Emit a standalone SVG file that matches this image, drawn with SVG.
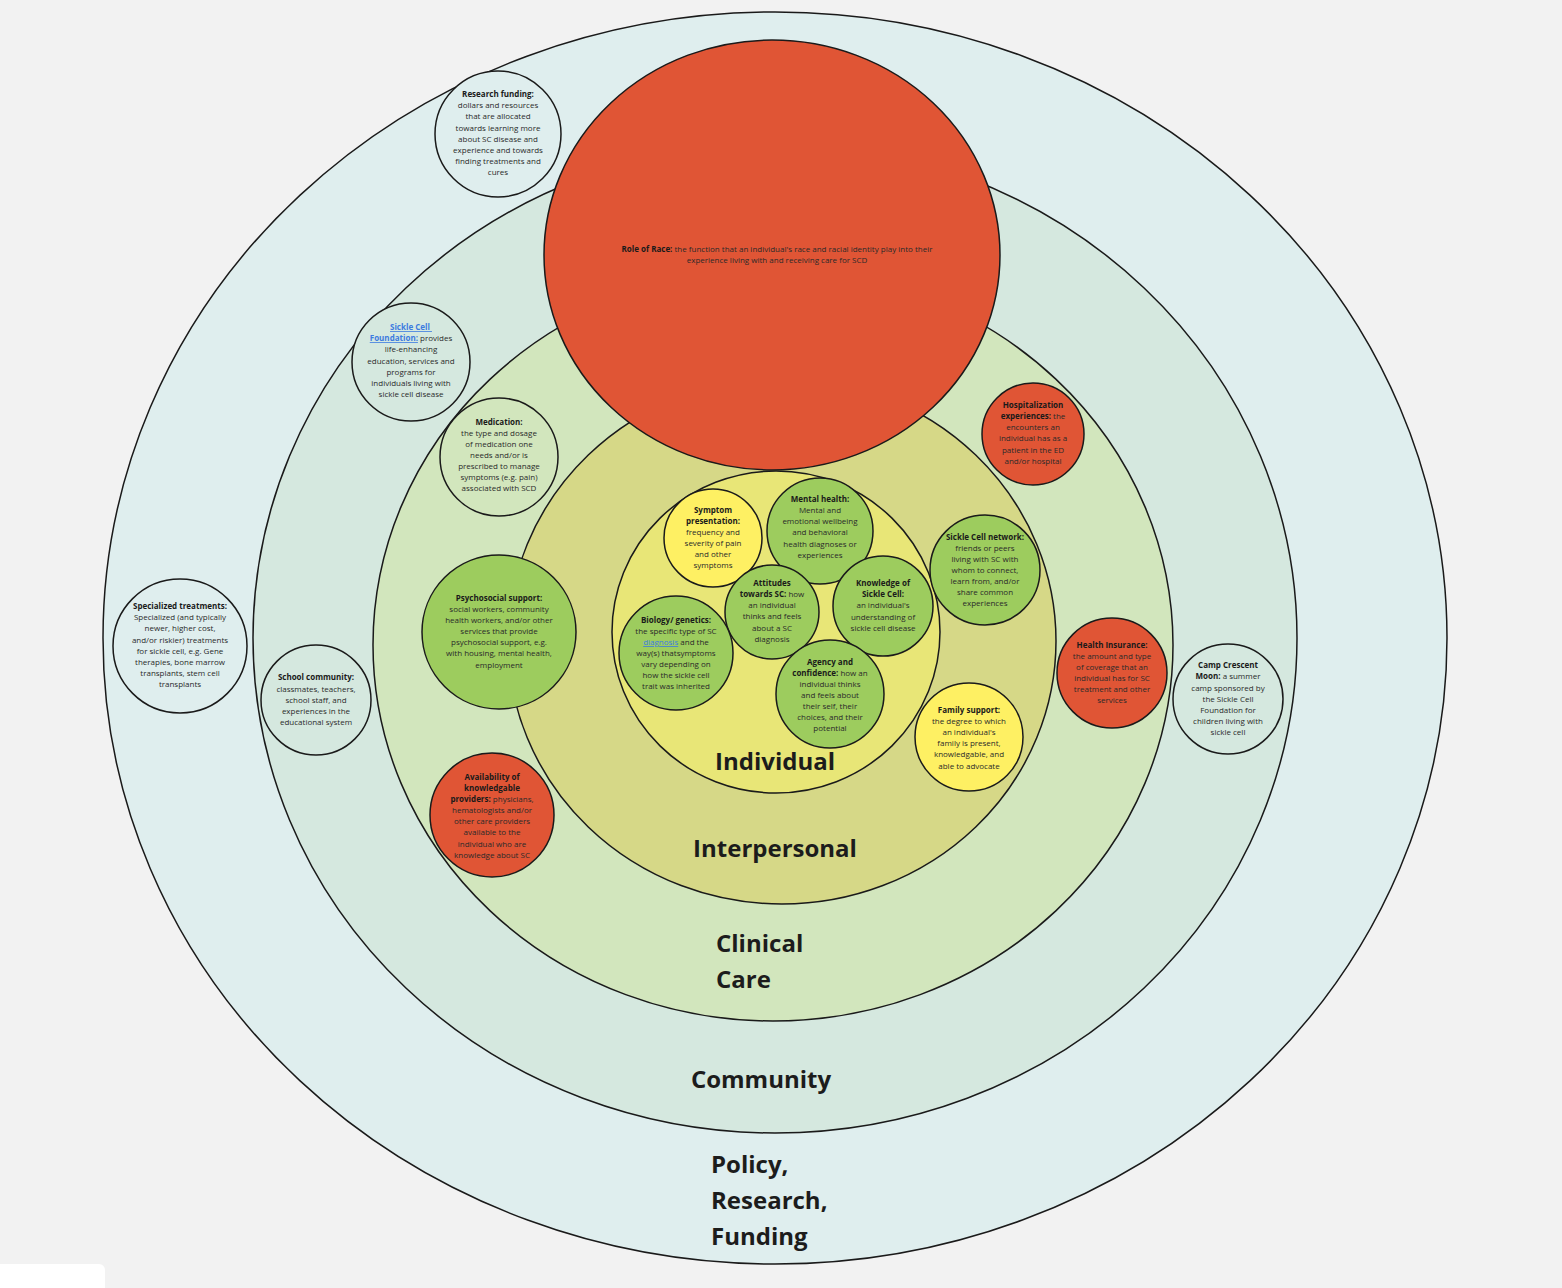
<svg xmlns="http://www.w3.org/2000/svg" width="1562" height="1288" viewBox="0 0 1562 1288">
<style>
.ring{stroke:#1a1a1a;stroke-width:1.5}
.n{stroke:#1a1a1a;stroke-width:1.5}
.t{font-family:"Open Sans","Noto Sans","Liberation Sans",sans-serif;font-size:8px;fill:#2a2a2a;text-anchor:middle}
.b{font-weight:bold;fill:#1a1a1a}
.lk{font-weight:bold;fill:#3d7be0;text-decoration:underline}
.lu{fill:#3d7be0;text-decoration:underline}
.lab{font-family:"Open Sans","Noto Sans","Liberation Sans",sans-serif;font-size:24px;font-weight:bold;fill:#1c1c1c}
.pol{fill:#dfeeee}.com{fill:#d5e8df}.cli{fill:#d2e6bd}.int{fill:#d6d887}.ind{fill:#e8e677}
.red{fill:#e05535}.grn{fill:#9dcc5e}.yel{fill:#fef063}
</style>
<rect x="0" y="0" width="1562" height="1288" fill="#f2f2f2"/>
<rect x="-10" y="1264" width="115" height="40" rx="6" fill="#ffffff"/>
<g id="rings">
<ellipse id="policy" class="ring pol" cx="775" cy="638" rx="672" ry="626"/>
<ellipse id="community" class="ring com" cx="775" cy="638" rx="522" ry="495"/>
<ellipse id="clinical" class="ring cli" cx="773" cy="645" rx="400" ry="376"/>
<ellipse id="interpersonal" class="ring int" cx="782" cy="641" rx="274" ry="263"/>
<ellipse id="individual" class="ring ind" cx="776" cy="632" rx="164" ry="161"/>
</g>
<g id="labels">
<text class="lab" x="775" y="770" text-anchor="middle">Individual</text>
<text class="lab" x="775" y="857" text-anchor="middle">Interpersonal</text>
<text class="lab" x="716" y="952">Clinical</text>
<text class="lab" x="716" y="988">Care</text>
<text class="lab" x="761" y="1088" text-anchor="middle">Community</text>
<text class="lab" x="711" y="1173">Policy,</text>
<text class="lab" x="711" y="1209">Research,</text>
<text class="lab" x="711" y="1245">Funding</text>
</g>
<g id="connectors"></g>
<g id="role-of-race">
<ellipse class="n red" cx="772" cy="255" rx="228" ry="215"/>
<text class="t"><tspan x="777" y="252"><tspan class="b">Role of Race:</tspan> the function that an individual's race and racial identity play into their</tspan><tspan x="777" y="263">experience living with and receiving care for SCD</tspan></text>
</g>
<g id="research-funding">
<circle class="n pol" cx="498" cy="134" r="63"/>
<text class="t"><tspan class="b" x="498" y="97">Research funding:</tspan><tspan x="498" y="108">dollars and resources</tspan><tspan x="498" y="119">that are allocated</tspan><tspan x="498" y="131">towards learning more</tspan><tspan x="498" y="142">about SC disease and</tspan><tspan x="498" y="153">experience and towards</tspan><tspan x="498" y="164">finding treatments and</tspan><tspan x="498" y="175">cures</tspan></text>
</g>
<g id="sickle-cell-foundation">
<circle class="n com" cx="411" cy="362" r="59"/>
<text class="t"><tspan class="lk" x="411" y="330">Sickle Cell </tspan><tspan x="411" y="341"><tspan class="lk">Foundation:</tspan> provides</tspan><tspan x="411" y="352">life-enhancing</tspan><tspan x="411" y="364">education, services and</tspan><tspan x="411" y="375">programs for</tspan><tspan x="411" y="386">individuals living with</tspan><tspan x="411" y="397">sickle cell disease</tspan></text>
</g>
<g id="medication">
<circle class="n cli" cx="499" cy="457" r="59"/>
<text class="t"><tspan class="b" x="499" y="425">Medication:</tspan><tspan x="499" y="436">the type and dosage</tspan><tspan x="499" y="447">of medication one</tspan><tspan x="499" y="458">needs and/or is</tspan><tspan x="499" y="469">prescribed to manage</tspan><tspan x="499" y="480">symptoms (e.g. pain)</tspan><tspan x="499" y="491">associated with SCD</tspan></text>
</g>
<g id="hospitalization">
<circle class="n red" cx="1033" cy="434" r="51"/>
<text class="t"><tspan class="b" x="1033" y="408">Hospitalization</tspan><tspan x="1033" y="419"><tspan class="b">experiences:</tspan> the</tspan><tspan x="1033" y="430">encounters an</tspan><tspan x="1033" y="441">individual has as a</tspan><tspan x="1033" y="453">patient in the ED</tspan><tspan x="1033" y="464">and/or hospital</tspan></text>
</g>
<g id="sickle-cell-network">
<circle class="n grn" cx="985" cy="570" r="55"/>
<text class="t"><tspan class="b" x="985" y="540">Sickle Cell network:</tspan><tspan x="985" y="551">friends or peers</tspan><tspan x="985" y="562">living with SC with</tspan><tspan x="985" y="573">whom to connect,</tspan><tspan x="985" y="584">learn from, and/or</tspan><tspan x="985" y="595">share common</tspan><tspan x="985" y="606">experiences</tspan></text>
</g>
<g id="symptom-presentation">
<circle class="n yel" cx="713" cy="538" r="49"/>
<text class="t"><tspan class="b" x="713" y="513">Symptom</tspan><tspan class="b" x="713" y="524">presentation:</tspan><tspan x="713" y="535">frequency and</tspan><tspan x="713" y="546">severity of pain</tspan><tspan x="713" y="557">and other</tspan><tspan x="713" y="568">symptoms</tspan></text>
</g>
<g id="mental-health">
<circle class="n grn" cx="820" cy="531" r="53"/>
<text class="t"><tspan class="b" x="820" y="502">Mental health:</tspan><tspan x="820" y="513">Mental and</tspan><tspan x="820" y="524">emotional wellbeing</tspan><tspan x="820" y="535">and behavioral</tspan><tspan x="820" y="547">health diagnoses or</tspan><tspan x="820" y="558">experiences</tspan></text>
</g>
<g id="attitudes">
<circle class="n grn" cx="772" cy="612" r="47"/>
<text class="t"><tspan class="b" x="772" y="586">Attitudes</tspan><tspan x="772" y="597"><tspan class="b">towards SC:</tspan> how</tspan><tspan x="772" y="608">an individual</tspan><tspan x="772" y="619">thinks and feels</tspan><tspan x="772" y="631">about a SC</tspan><tspan x="772" y="642">diagnosis</tspan></text>
</g>
<g id="knowledge">
<circle class="n grn" cx="883" cy="606" r="50"/>
<text class="t"><tspan class="b" x="883" y="586">Knowledge of</tspan><tspan class="b" x="883" y="597">Sickle Cell:</tspan><tspan x="883" y="608">an individual's</tspan><tspan x="883" y="620">understanding of</tspan><tspan x="883" y="631">sickle cell disease</tspan></text>
</g>
<g id="biology-genetics">
<circle class="n grn" cx="676" cy="653" r="57"/>
<text class="t"><tspan class="b" x="676" y="623">Biology/ genetics:</tspan><tspan x="676" y="634">the specific type of SC</tspan><tspan x="676" y="645"><tspan class="lu">diagnosis</tspan> and the</tspan><tspan x="676" y="656">way(s) thatsymptoms</tspan><tspan x="676" y="667">vary depending on</tspan><tspan x="676" y="678">how the sickle cell</tspan><tspan x="676" y="689">trait was inherited</tspan></text>
</g>
<g id="agency-confidence">
<circle class="n grn" cx="830" cy="694" r="54"/>
<text class="t"><tspan class="b" x="830" y="665">Agency and</tspan><tspan x="830" y="676"><tspan class="b">confidence:</tspan> how an</tspan><tspan x="830" y="687">individual thinks</tspan><tspan x="830" y="698">and feels about</tspan><tspan x="830" y="709">their self, their</tspan><tspan x="830" y="720">choices, and their</tspan><tspan x="830" y="731">potential</tspan></text>
</g>
<g id="specialized-treatments">
<circle class="n pol" cx="180" cy="646" r="67"/>
<text class="t"><tspan class="b" x="180" y="609">Specialized treatments:</tspan><tspan x="180" y="620">Specialized (and typically</tspan><tspan x="180" y="631">newer, higher cost,</tspan><tspan x="180" y="643">and/or riskier) treatments</tspan><tspan x="180" y="654">for sickle cell, e.g. Gene</tspan><tspan x="180" y="665">therapies, bone marrow</tspan><tspan x="180" y="676">transplants, stem cell</tspan><tspan x="180" y="687">transplants</tspan></text>
</g>
<g id="school-community">
<circle class="n com" cx="316" cy="700" r="55"/>
<text class="t"><tspan class="b" x="316" y="680">School community:</tspan><tspan x="316" y="692">classmates, teachers,</tspan><tspan x="316" y="703">school staff, and</tspan><tspan x="316" y="714">experiences in the</tspan><tspan x="316" y="725">educational system</tspan></text>
</g>
<g id="psychosocial-support">
<circle class="n grn" cx="499" cy="632" r="77"/>
<text class="t"><tspan class="b" x="499" y="601">Psychosocial support:</tspan><tspan x="499" y="612">social workers, community</tspan><tspan x="499" y="623">health workers, and/or other</tspan><tspan x="499" y="634">services that provide</tspan><tspan x="499" y="645">psychosocial support, e.g.</tspan><tspan x="499" y="656">with housing, mental health,</tspan><tspan x="499" y="668">employment</tspan></text>
</g>
<g id="health-insurance">
<circle class="n red" cx="1112" cy="673" r="55"/>
<text class="t"><tspan class="b" x="1112" y="648">Health Insurance:</tspan><tspan x="1112" y="659">the amount and type</tspan><tspan x="1112" y="670">of coverage that an</tspan><tspan x="1112" y="681">individual has for SC</tspan><tspan x="1112" y="692">treatment and other</tspan><tspan x="1112" y="703">services</tspan></text>
</g>
<g id="camp-crescent-moon">
<circle class="n com" cx="1228" cy="699" r="55"/>
<text class="t"><tspan class="b" x="1228" y="668">Camp Crescent</tspan><tspan x="1228" y="679"><tspan class="b">Moon:</tspan> a summer</tspan><tspan x="1228" y="691">camp sponsored by</tspan><tspan x="1228" y="702">the Sickle Cell</tspan><tspan x="1228" y="713">Foundation for</tspan><tspan x="1228" y="724">children living with</tspan><tspan x="1228" y="735">sickle cell</tspan></text>
</g>
<g id="family-support">
<circle class="n yel" cx="969" cy="737" r="54"/>
<text class="t"><tspan class="b" x="969" y="713">Family support:</tspan><tspan x="969" y="724">the degree to which</tspan><tspan x="969" y="735">an individual's</tspan><tspan x="969" y="746">family is present,</tspan><tspan x="969" y="757">knowledgable, and</tspan><tspan x="969" y="769">able to advocate</tspan></text>
</g>
<g id="availability-providers">
<circle class="n red" cx="492" cy="815" r="62"/>
<text class="t"><tspan class="b" x="492" y="780">Availability of</tspan><tspan class="b" x="492" y="791">knowledgable</tspan><tspan x="492" y="802"><tspan class="b">providers:</tspan> physicians,</tspan><tspan x="492" y="813">hematologists and/or</tspan><tspan x="492" y="824">other care providers</tspan><tspan x="492" y="835">available to the</tspan><tspan x="492" y="847">individual who are</tspan><tspan x="492" y="858">knowledge about SC</tspan></text>
</g>
</svg>
